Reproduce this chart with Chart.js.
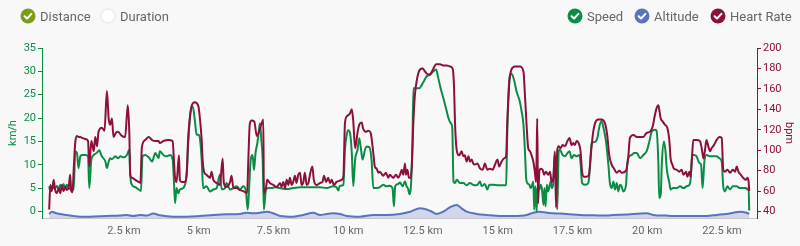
<!DOCTYPE html>
<html>
<head>
<meta charset="utf-8">
<script src="https://cdn.jsdelivr.net/npm/chart.js@4.4.1/dist/chart.umd.min.js"></script>
<style>
  html, body { margin: 0; padding: 0; background: #f8f8f8; }
  #wrap { position: relative; width: 800px; height: 246px; font-family: Roboto, "Noto Sans", sans-serif; }
  #chart { position: absolute; left: 0; top: 0; }
  .item { position: absolute; top: 8px; height: 16px; display: flex; align-items: center; font-size: 13px; color: #666; white-space: nowrap; }
  .item svg { margin-right: 4px; }
</style>
</head>
<body>
<div id="wrap">
  <canvas id="chart" width="800" height="246"></canvas>
  <div id="legend"></div>
</div>
<script>
// Distanz (km) und Werte
const speedKm = [0.00,0.04,0.09,0.20,0.26,0.32,0.37,0.43,0.48,0.54,0.59,0.65,0.76,0.82,0.87,0.93,0.98,1.04,1.10,1.21,1.30,1.34,1.41,1.49,1.60,1.67,1.76,1.88,1.93,1.99,2.04,2.10,2.21,2.30,2.38,2.49,2.60,2.68,2.71,2.77,2.88,2.99,3.07,3.12,3.21,3.33,3.44,3.55,3.66,
  3.70,3.82,3.93,4.04,4.13,4.17,4.21,4.26,4.32,4.37,4.48,4.60,4.65,4.71,4.80,4.87,4.93,4.99,5.04,5.10,5.15,5.26,5.38,5.49,5.60,5.71,5.77,5.88,5.93,6.05,6.16,6.27,6.38,6.49,6.58,6.64,6.68,6.74,6.80,6.85,6.90,6.96,7.03,7.05,7.09,7.14,7.18,7.25,7.33,7.44,7.55,
  7.72,7.94,8.16,8.39,8.61,8.83,9.06,9.28,9.50,9.61,9.67,9.72,9.84,9.89,9.95,10.00,10.06,10.12,10.17,10.23,10.31,10.37,10.43,10.48,10.56,10.61,10.70,10.78,10.84,10.95,11.06,11.17,11.28,11.39,11.48,11.53,11.57,11.67,
  11.73,11.82,11.90,11.95,12.01,12.04,12.10,12.15,12.18,12.29,12.38,12.46,12.53,12.62,12.74,12.85,12.94,13.01,13.09,13.18,13.27,13.35,13.43,13.48,13.52,13.57,13.63,13.74,13.85,13.96,14.07,14.18,14.30,14.41,14.46,14.57,14.65,14.72,14.85,15.02,15.19,15.28,15.32,15.39,15.46,15.54,15.63,15.74,
  15.80,15.86,15.91,15.95,15.99,16.06,16.10,16.14,16.19,16.22,16.26,16.30,16.33,16.39,16.44,16.48,16.53,16.56,16.60,16.64,16.68,16.73,16.77,16.81,16.86,16.90,16.95,16.99,17.04,17.08,17.17,17.25,17.33,17.40,17.47,17.55,17.64,17.73,17.77,17.82,17.92,18.03,18.09,18.14,18.25,18.33,18.40,18.47,18.55,18.62,18.70,18.75,18.81,18.87,18.92,18.98,19.03,19.09,19.14,19.20,19.29,19.33,19.40,19.48,19.56,19.65,
  19.76,19.87,19.98,20.07,20.15,20.26,20.31,20.37,20.40,20.45,20.49,20.56,20.61,20.65,20.74,20.78,20.87,20.98,21.10,21.21,21.32,21.41,21.45,21.50,21.56,21.65,21.74,21.80,21.85,21.91,21.98,22.10,22.21,22.32,22.41,22.49,22.54,22.60,22.68,22.77,22.86,22.99,23.10,23.21,23.30,23.35,23.39,23.41];
const speedKmh = [5.4,4.3,5.0,5.0,5.5,4.7,5.7,5.0,5.9,5.0,5.7,5.0,4.7,4.7,12.9,12.5,9.3,11.8,12.1,12.1,11.8,5.0,11.1,12.1,12.6,13.1,11.8,10.7,9.3,10.7,11.4,11.2,11.8,11.4,11.8,11.6,12.1,13.2,7.9,5.7,5.2,4.7,4.4,11.8,12.1,11.6,10.7,12.5,11.4,
  12.9,12.1,11.8,12.1,11.1,6.8,1.8,5.0,3.9,4.7,5.0,8.2,14.6,20.4,22.5,19.6,16.4,16.4,15.7,11.1,5.0,5.4,4.3,4.7,5.0,7.9,4.7,5.0,6.1,4.7,5.0,5.4,4.7,5.4,4.3,0.4,4.3,11.1,12.1,8.9,12.5,14.6,18.2,18.9,15.7,11.1,0.4,4.7,5.0,5.0,5.2,
  5.0,4.8,5.0,5.2,5.2,5.2,5.2,5.0,5.4,5.2,4.5,5.5,5.7,13.2,16.4,17.4,16.8,12.5,5.4,11.1,13.2,15.7,13.2,11.1,13.2,13.9,13.8,11.1,5.0,5.0,5.2,5.7,5.4,5.5,5.0,1.1,5.4,5.9,
  6.2,5.4,6.4,5.4,4.7,3.7,5.7,15.7,26.4,26.4,26.4,27.1,27.9,28.9,29.3,30.0,30.4,28.6,26.4,24.3,22.1,20.0,18.9,17.9,6.4,6.1,6.8,6.1,6.1,5.6,6.1,5.7,5.6,6.4,5.4,5.9,4.7,5.7,5.7,5.6,5.6,5.7,17.1,28.5,29.5,28.3,25.7,23.5,
  21.4,18.6,12.9,7.2,6.1,5.7,5.0,5.4,6.4,0.4,5.4,0.0,5.4,4.7,5.7,4.7,1.4,5.0,1.1,5.7,4.3,5.4,6.4,5.0,6.1,12.1,11.4,0.4,12.9,13.2,12.1,11.8,12.5,12.9,11.4,12.1,11.8,12.1,10.4,6.1,5.7,6.1,10.0,14.6,14.9,15.7,18.2,19.3,17.5,15.0,10.0,6.1,5.0,6.4,4.7,6.1,4.3,5.7,5.4,4.3,5.7,10.0,11.8,12.1,12.5,12.5,
  11.4,12.1,12.9,15.0,17.1,17.5,17.3,10.7,2.9,3.6,10.7,15.0,12.9,9.3,6.1,4.7,5.0,5.0,5.4,5.0,5.4,5.7,6.8,12.1,12.1,11.8,10.4,10.0,5.0,10.7,12.1,11.8,11.8,11.8,11.4,10.7,5.4,4.3,5.4,4.7,5.4,5.4,5.0,5.0,5.0,4.7,5.0,0.2];

const hrKm = [0.00,0.04,0.09,0.15,0.20,0.26,0.32,0.37,0.43,0.48,0.54,0.59,0.65,0.70,0.74,0.78,0.82,0.87,0.93,0.98,1.04,1.10,1.21,1.30,1.34,1.41,1.49,1.54,1.60,1.65,1.76,1.85,1.93,1.99,2.04,2.10,2.15,2.23,2.30,2.43,2.54,2.63,2.68,2.71,2.77,2.88,2.99,3.05,3.10,3.21,3.33,3.44,3.55,3.66,
  3.70,3.82,3.98,4.13,4.17,4.21,4.26,4.34,4.37,4.43,4.54,4.60,4.65,4.71,4.76,4.87,4.99,5.04,5.10,5.13,5.18,5.26,5.38,5.43,5.49,5.60,5.71,5.80,5.84,5.93,6.05,6.10,6.16,6.27,6.38,6.49,6.62,6.66,6.71,6.77,6.86,6.94,6.99,7.05,7.10,7.16,7.18,7.25,7.29,7.38,7.49,7.61,
  7.72,7.77,7.83,7.89,7.94,8.00,8.05,8.11,8.16,8.22,8.27,8.33,8.39,8.44,8.50,8.55,8.61,8.67,8.72,8.80,8.85,8.94,9.06,9.14,9.19,9.26,9.33,9.39,9.45,9.52,9.61,9.70,9.78,9.84,9.89,9.95,10.06,10.12,10.17,10.23,10.31,10.37,10.45,10.50,10.59,10.67,10.75,10.84,10.89,10.95,11.01,11.06,11.17,11.26,11.34,11.39,11.51,11.60,11.67,
  11.73,11.79,11.84,11.90,11.93,11.98,12.03,12.09,12.13,12.18,12.23,12.31,12.40,12.49,12.57,12.68,12.76,12.85,12.94,13.07,13.18,13.29,13.40,13.49,13.54,13.57,13.61,13.65,13.71,13.79,13.85,13.90,13.96,14.02,14.07,14.13,14.18,14.24,14.32,14.41,14.50,14.57,14.65,14.74,14.83,14.91,14.99,15.05,15.13,15.21,15.28,15.32,15.39,15.46,15.58,15.69,
  15.74,15.86,15.91,15.97,16.02,16.08,16.13,16.19,16.24,16.28,16.30,16.32,16.35,16.39,16.44,16.50,16.55,16.61,16.69,16.75,16.80,16.86,16.91,16.95,16.99,17.04,17.10,17.17,17.25,17.33,17.40,17.47,17.53,17.58,17.64,17.73,17.77,17.82,17.88,17.97,18.05,18.11,18.18,18.25,18.36,18.47,18.59,18.66,18.73,18.81,18.89,18.98,19.07,19.14,19.25,19.31,19.37,19.42,19.54,19.65,
  19.76,19.87,19.98,20.09,20.18,20.26,20.31,20.37,20.40,20.45,20.52,20.59,20.67,20.74,20.78,20.84,20.89,20.98,21.07,21.15,21.21,21.30,21.34,21.41,21.45,21.50,21.54,21.65,21.76,21.82,21.88,21.93,21.98,22.04,22.10,22.15,22.23,22.32,22.41,22.49,22.54,22.60,22.68,22.77,22.86,22.94,22.99,23.05,23.13,23.21,23.30,23.35,23.39,23.41];
const hrBpm = [42,66,60,71,61,58,63,58,66,60,64,61,63,76,60,59,81,107,114,113,113,112,111,109,84,109,99,113,104,118,122,119,158,131,125,131,113,117,118,114,113,144,117,76,73,71,69,68,103,110,113,110,109,109,
  107,109,110,109,91,73,69,95,71,69,69,78,113,133,143,147,143,131,110,91,79,76,73,79,71,68,66,92,68,64,69,75,63,63,61,60,58,91,126,129,128,114,116,121,126,130,58,63,71,68,66,64,
  68,64,69,63,71,66,73,66,69,75,68,76,78,66,69,78,66,68,76,84,71,66,68,69,75,69,73,68,71,66,69,70,71,75,126,133,136,140,128,102,117,125,127,121,118,119,117,97,84,82,78,79,75,78,73,76,73,76,73,
  76,81,76,87,76,81,73,73,86,128,154,171,179,180,177,174,175,180,184,184,183,183,182,180,161,128,105,97,95,99,94,95,89,94,89,91,87,86,87,82,81,87,81,82,81,86,91,84,89,92,94,128,167,179,182,182,
  182,177,154,122,102,99,95,89,79,69,92,131,48,79,82,81,76,79,76,79,69,73,99,44,100,104,102,105,104,109,112,105,107,105,109,105,99,79,74,74,76,95,115,126,130,130,126,115,95,86,82,78,80,78,79,82,95,112,115,113,
  113,113,117,118,123,135,141,144,140,131,128,125,122,109,92,86,82,81,79,81,76,79,74,79,74,95,110,110,109,102,92,100,110,104,99,102,105,110,113,112,81,79,81,78,81,79,84,79,76,73,71,73,69,60];

const altKm = [0.00,0.08,0.19,0.36,0.58,0.81,1.03,1.36,1.92,2.37,2.59,2.81,3.04,3.26,3.48,3.70,4.15,4.60,5.04,5.49,5.93,6.38,6.60,6.83,7.05,7.27,7.49,7.72,8.16,8.50,8.83,9.06,9.28,9.50,9.72,9.95,10.39,10.84,11.28,11.73,
  12.07,12.40,12.73,12.96,13.18,13.40,13.63,13.79,13.96,14.30,14.63,15.08,15.52,15.97,16.19,16.41,16.64,16.86,17.31,17.75,18.20,18.64,18.87,19.31,19.53,19.98,20.20,20.65,21.09,21.54,21.99,22.32,22.66,22.88,23.10,23.32,23.41];
const altM = [2.4,3.7,3.1,2.4,1.8,1.2,0.8,0.8,1.2,1.4,1.8,1.2,1.8,1.4,2.6,1.6,0.8,0.8,1.2,1.8,2.2,2.4,3.1,2.8,3.1,3.7,2.8,1.2,0.8,1.8,3.1,1.8,2.4,2.8,2.4,1.2,0.8,1.8,1.8,2.4,
  3.7,5.7,4.3,2.4,3.7,6.3,7.7,5.7,3.7,2.4,1.8,1.2,1.2,1.8,3.1,3.7,3.1,2.8,2.4,1.8,1.6,1.4,1.8,2.0,2.4,2.8,1.8,1.4,1.2,1.2,1.2,1.8,2.4,3.1,3.7,3.1,2.4];

const distanceTicks = [2.5, 5, 7.5, 10, 12.5, 15, 17.5, 20, 22.5];
const speedTicks = [0, 5, 10, 15, 20, 25, 30, 35];
const hrTicks = [40, 60, 80, 100, 120, 140, 160, 180, 200];

// Farben
const GREEN = '#0b8c45';
const RED = '#8c0f3c';
const BLUE = '#5a72bf';

// Legende oben (HTML)
const legendItems = [
  { text: 'Distance', color: '#7a9c17', left: 20 },
  { text: 'Duration', color: null, left: 100 },
  { text: 'Speed', color: GREEN, left: 567 },
  { text: 'Altitude', color: BLUE, left: 634 },
  { text: 'Heart Rate', color: RED, left: 710 }
];
const legend = document.getElementById('legend');
legendItems.forEach(function (it) {
  const div = document.createElement('div');
  div.className = 'item';
  div.style.left = it.left + 'px';
  let icon;
  if (it.color) {
    icon = '<svg width="16" height="16" viewBox="0 0 16 16"><circle cx="8" cy="8" r="7.5" fill="' + it.color + '"/>' +
      '<path d="M4.6 8.3 L7 10.6 L11.4 5.9" stroke="#fff" stroke-width="2.1" fill="none" stroke-linecap="round" stroke-linejoin="round"/></svg>';
  } else {
    icon = '<svg width="16" height="16" viewBox="0 0 16 16"><circle cx="8" cy="8" r="7" fill="#fff" stroke="#e2e2e2" stroke-width="1"/></svg>';
  }
  div.innerHTML = icon + '<span>' + it.text + '</span>';
  legend.appendChild(div);
});

function pairs(xs, ys) {
  return xs.map(function (x, i) { return { x: x, y: ys[i] }; });
}

const ctx = document.getElementById('chart').getContext('2d');
new Chart(ctx, {
  type: 'line',
  data: {
    datasets: [
      {
        label: 'Heart Rate', data: pairs(hrKm, hrBpm), yAxisID: 'yHr', order: 0,
        borderColor: RED, borderWidth: 2, pointRadius: 0, cubicInterpolationMode: 'monotone', fill: false
      },
      {
        label: 'Speed', data: pairs(speedKm, speedKmh), yAxisID: 'ySpeed', order: 1,
        borderColor: GREEN, borderWidth: 2, pointRadius: 0, cubicInterpolationMode: 'monotone', fill: false
      },
      {
        label: 'Altitude', data: pairs(altKm, altM), yAxisID: 'yAlt', order: 2,
        borderColor: BLUE, borderWidth: 2, pointRadius: 0, cubicInterpolationMode: 'monotone',
        fill: 'start', backgroundColor: 'rgba(90,110,190,0.25)'
      }
    ]
  },
  options: {
    responsive: false,
    animation: false,
    layout: { padding: { top: 48, left: 0, right: 0, bottom: 0 } },
    plugins: { legend: { display: false }, tooltip: { enabled: false } },
    scales: {
      x: {
        type: 'linear', min: -0.24, max: 23.67,
        afterBuildTicks: function (s) { s.ticks = distanceTicks.map(function (v) { return { value: v }; }); },
        afterFit: function (s) { s.height = 28; },
        grid: { display: false, drawTicks: false },
        border: { display: true, color: '#c6c6c6', width: 1 },
        ticks: {
          color: '#666', padding: 7, maxRotation: 0, autoSkip: false,
          font: { family: 'Roboto', size: 11 },
          callback: function (v) { return v + ' km'; }
        }
      },
      ySpeed: {
        position: 'left', min: -1.4, max: 35,
        afterBuildTicks: function (s) { s.ticks = speedTicks.map(function (v) { return { value: v }; }); },
        afterFit: function (s) { s.width = 42; },
        grid: { drawOnChartArea: false, color: GREEN, tickLength: 4 },
        border: { color: GREEN, width: 1 },
        ticks: { color: GREEN, padding: 2, font: { family: 'Roboto', size: 11 } },
        title: { display: true, text: 'km/h', color: GREEN, font: { family: 'Roboto', size: 11 }, padding: { top: 7, bottom: 0 } }
      },
      yHr: {
        position: 'right', min: 33.7, max: 200,
        afterBuildTicks: function (s) { s.ticks = hrTicks.map(function (v) { return { value: v }; }); },
        afterFit: function (s) { s.width = 43; },
        grid: { drawOnChartArea: false, color: RED, tickLength: 4 },
        border: { color: RED, width: 1 },
        ticks: { color: RED, padding: 2, font: { family: 'Roboto', size: 11 } },
        title: { display: true, text: 'bpm', color: RED, font: { family: 'Roboto', size: 11 }, padding: { top: 5, bottom: 0 } }
      },
      yAlt: {
        display: false, min: 0, max: 100
      }
    }
  }
});
</script>
</body>
</html>
